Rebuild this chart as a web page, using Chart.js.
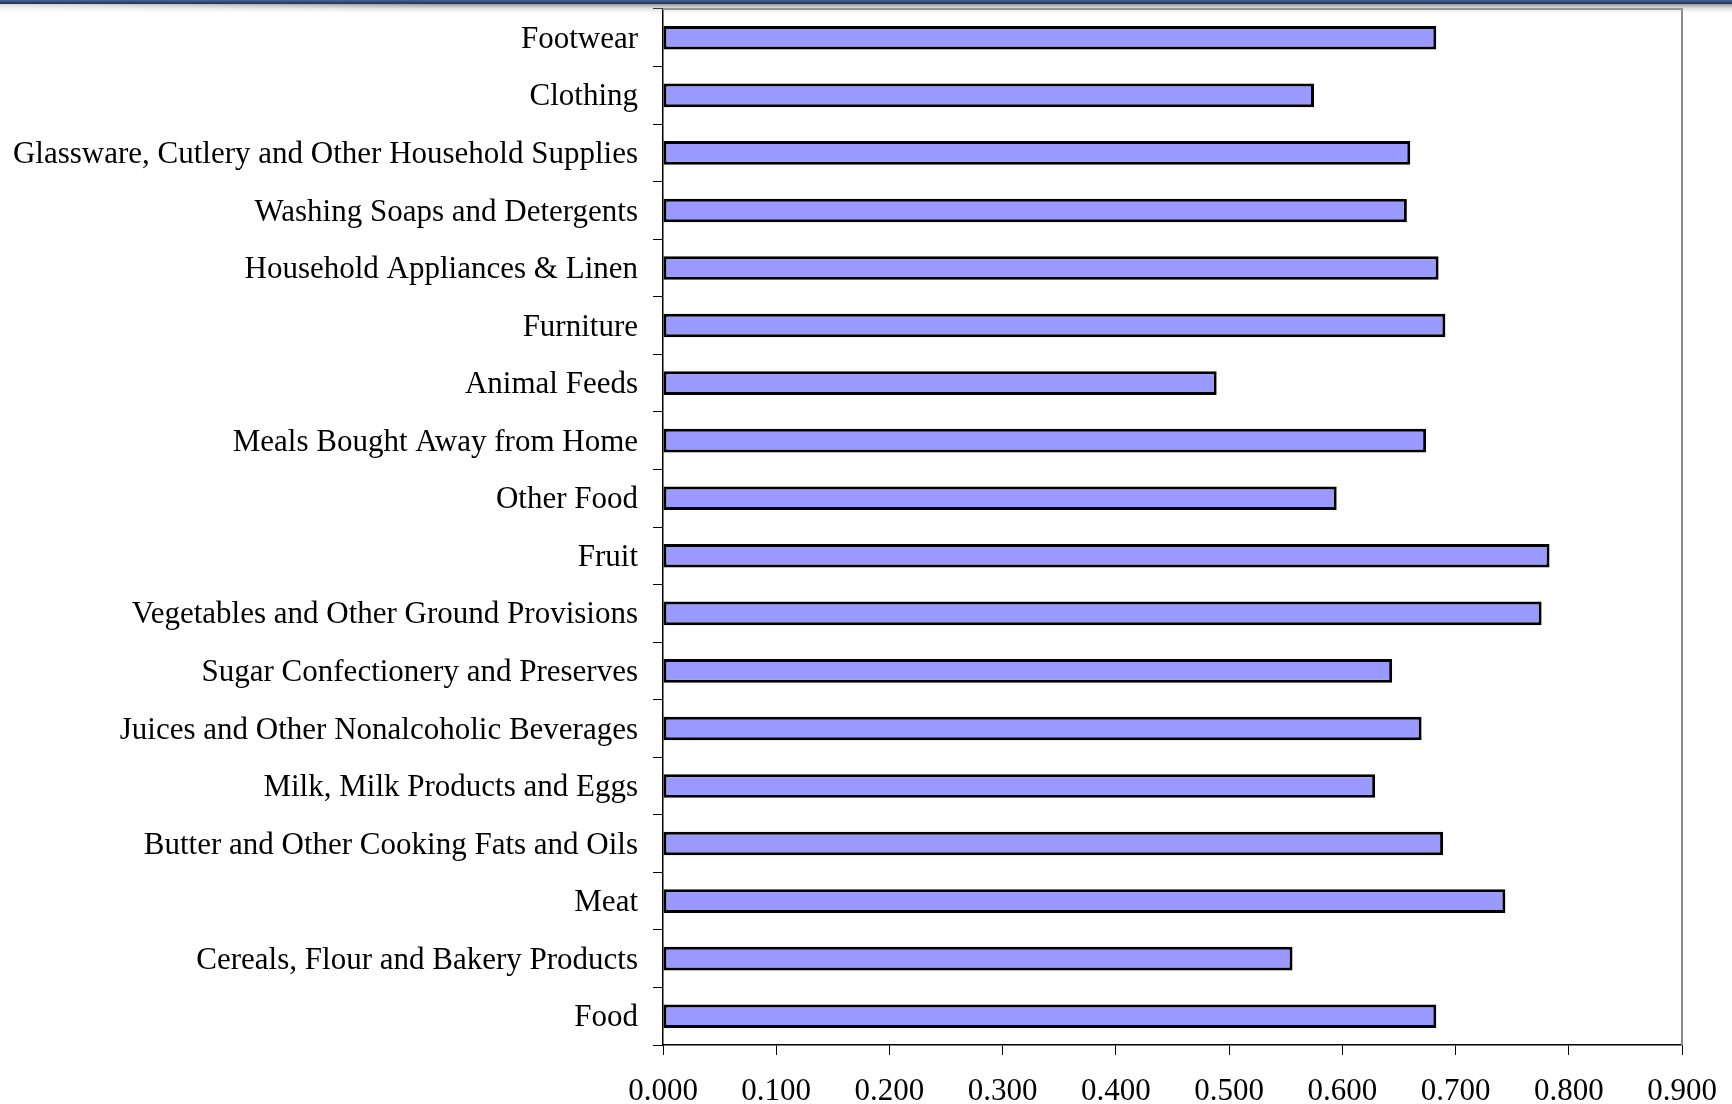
<!DOCTYPE html>
<html>
<head>
<meta charset="utf-8">
<script src="https://cdn.jsdelivr.net/npm/chart.js@4/dist/chart.umd.min.js"></script>
<style>
  html, body { margin: 0; padding: 0; background: #ffffff; }
  #wrap { position: relative; width: 1732px; height: 1104px; overflow: hidden; }
  #chart { position: absolute; left: 0; top: 0; }
  /* slide header rule with its drop shadow */
  #band {
    position: absolute; left: 0; top: 0; width: 1732px; height: 4px;
    background: linear-gradient(to bottom, #4a6a96 0px, #2c4a74 2px, #1e3558 4px);
    z-index: 2;
  }
  #shade {
    position: absolute; left: 0; top: 4px; width: 1732px; height: 9px;
    background: linear-gradient(to bottom, rgba(120,120,120,0.75), rgba(170,170,170,0.35) 50%, rgba(255,255,255,0));
    -webkit-mask-image: linear-gradient(to right, rgba(0,0,0,0.35), #000 25%, #000 100%);
    z-index: 2;
  }
</style>
</head>
<body>
<div id="wrap">
  <div id="band"></div>
  <div id="shade"></div>
  <canvas id="chart" width="1732" height="1104"></canvas>
</div>
<script>
// Categories listed top to bottom
const categories = [
  'Footwear',
  'Clothing',
  'Glassware, Cutlery and Other Household Supplies',
  'Washing Soaps and Detergents',
  'Household Appliances & Linen',
  'Furniture',
  'Animal Feeds',
  'Meals Bought Away from Home',
  'Other Food',
  'Fruit',
  'Vegetables and Other Ground Provisions',
  'Sugar Confectionery and Preserves',
  'Juices and Other Nonalcoholic Beverages',
  'Milk, Milk Products and Eggs',
  'Butter and Other Cooking Fats and Oils',
  'Meat',
  'Cereals, Flour and Bakery Products',
  'Food'
];

const values = [
  0.683, 0.575, 0.660, 0.657, 0.685, 0.691, 0.489, 0.674, 0.595,
  0.783, 0.776, 0.644, 0.670, 0.629, 0.689, 0.744, 0.556, 0.683
];

const xTickLabels = [
  '0.000', '0.100', '0.200', '0.300', '0.400',
  '0.500', '0.600', '0.700', '0.800', '0.900'
];

// Grey frame on the top and right of the plot area
const plotFrame = {
  id: 'plotFrame',
  afterDatasetsDraw(chart) {
    const { ctx, chartArea: a } = chart;
    ctx.save();
    ctx.strokeStyle = '#8c8c8c';
    ctx.lineWidth = 2;
    ctx.beginPath();
    ctx.moveTo(a.left, a.top);
    ctx.lineTo(a.right, a.top);
    ctx.lineTo(a.right, a.bottom);
    ctx.stroke();
    ctx.restore();
  }
};

Chart.defaults.font.family = "'Liberation Serif', 'Times New Roman', serif";
Chart.defaults.color = '#000000';

new Chart(document.getElementById('chart'), {
  type: 'bar',
  data: {
    labels: categories,
    datasets: [{
      data: values,
      backgroundColor: '#9999ff',
      borderColor: '#000000',
      borderWidth: 3,
      borderSkipped: false,
      barPercentage: 0.41,
      categoryPercentage: 1.0
    }]
  },
  options: {
    indexAxis: 'y',
    responsive: false,
    animation: false,
    devicePixelRatio: 1,
    layout: { padding: { top: 9, right: 50, left: 0, bottom: 0 } },
    plugins: {
      legend: { display: false },
      tooltip: { enabled: false }
    },
    scales: {
      x: {
        min: 0,
        max: 0.9,
        grid: {
          drawOnChartArea: false,
          drawTicks: true,
          tickLength: 10,
          color: '#000000'
        },
        border: { display: true, color: '#000000', width: 1.5 },
        ticks: {
          stepSize: 0.1,
          padding: 18,
          maxRotation: 0,
          font: { size: 31 },
          callback: (v, i) => xTickLabels[i]
        },
        afterFit: (s) => {
          s.height = 59;
          s.paddingLeft = 0;
          s.paddingRight = 0;
        }
      },
      y: {
        grid: {
          offset: true,
          drawOnChartArea: false,
          drawTicks: true,
          tickLength: 10,
          color: '#000000'
        },
        border: { display: true, color: '#000000', width: 1.5 },
        ticks: {
          padding: 15,
          labelOffset: 2,
          autoSkip: false,
          font: { size: 31 }
        },
        afterFit: (s) => {
          s.width = 663;
          s.paddingTop = 0;
          s.paddingBottom = 0;
        }
      }
    }
  },
  plugins: [plotFrame]
});
</script>
</body>
</html>
